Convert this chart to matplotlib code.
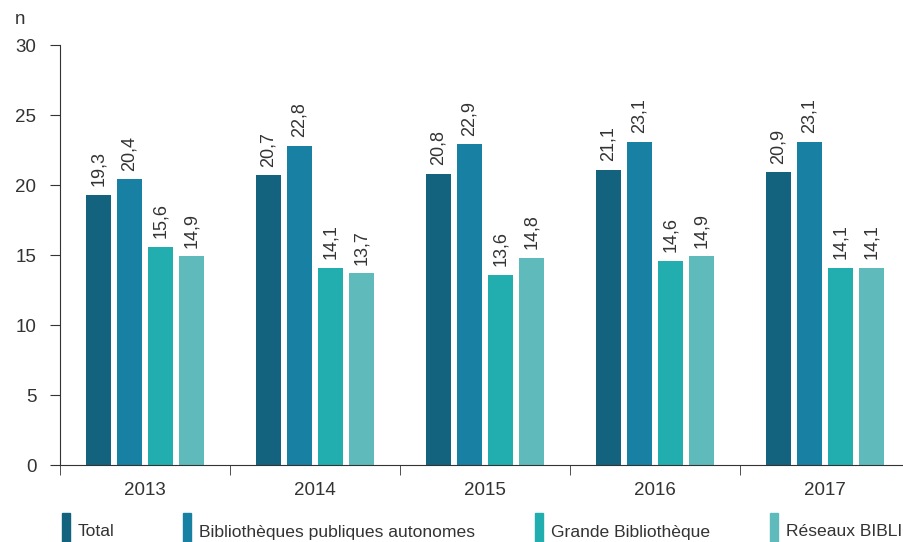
import numpy as np
import matplotlib
matplotlib.use("Agg")
import matplotlib.pyplot as plt
from matplotlib.patches import Rectangle

### DATA ######################################################################
years = ["2013", "2014", "2015", "2016", "2017"]
series = ["Total", "Bibliothèques publiques autonomes",
          "Grande Bibliothèque", "Réseaux BIBLIO"]
total = [19.3, 20.7, 20.8, 21.1, 20.9]
autonomes = [20.4, 22.8, 22.9, 23.1, 23.1]
grande = [15.6, 14.1, 13.6, 14.6, 14.1]
reseaux = [14.9, 13.7, 14.8, 14.9, 14.1]
values = [total, autonomes, grande, reseaux]
colours = ["#13637f", "#1880a3", "#22adae", "#5fbbbb"]

### PLOT ######################################################################
plt.rcParams['font.family'] = ['Liberation Sans', 'DejaVu Sans']
txt = "#333333"

fig = plt.figure(figsize=(9.04, 5.42), dpi=100)
W, H = 904, 542
ax = fig.add_axes([60/W, 1-465/H, 850/W, 420/H])

x = np.arange(len(years))
bw = 0.147
step = 0.182
for i, (vals, c) in enumerate(zip(values, colours)):
    xs = x + (i-1.5)*step
    ax.bar(xs, vals, width=bw, color=c)
    for xi, v in zip(xs, vals):
        ax.annotate(f"{v:.1f}".replace(".", ","), (xi, v), xytext=(0, 6),
                    textcoords="offset points", rotation=90, ha="center",
                    va="bottom", fontsize=13, color=txt)

ax.set_xlim(-0.5, len(years)-0.5)
ax.set_ylim(0, 30)
ax.set_yticks(range(0, 31, 5))
ax.set_xticks(x)
ax.set_xticklabels(years)
ax.set_xticks(np.arange(-0.5, len(years)), minor=True)
ax.tick_params(axis="x", which="major", length=0, pad=12, labelsize=13.5,
               labelcolor=txt)
ax.tick_params(axis="x", which="minor", length=7, color="#333333")
ax.tick_params(axis="y", length=7, pad=10, labelsize=13.5, labelcolor=txt,
               color="#333333")
for s in ["top", "right"]:
    ax.spines[s].set_visible(False)
for s in ["left", "bottom"]:
    ax.spines[s].set_color("#333333")

fig.text(15/W, 1-20/H, "n", fontsize=13.5, color=txt, va="center")

# legend
leg_x = [62, 183, 535, 770]
for lx, name, c in zip(leg_x, series, colours):
    fig.add_artist(Rectangle((lx/W, 0), 8/W, 29/H, color=c,
                             transform=fig.transFigure))
    fig.text((lx+16)/W, 1-532/H, name, fontsize=12.6, color=txt, va="center")

fig.savefig("out.png")
